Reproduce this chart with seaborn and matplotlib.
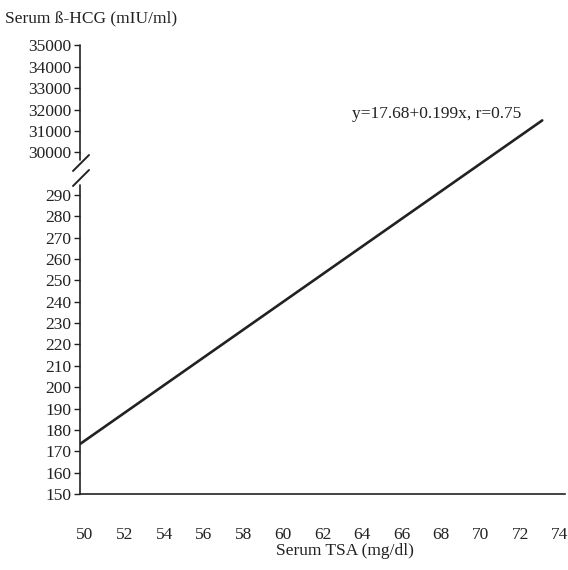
import numpy as np
import pandas as pd
import matplotlib
matplotlib.use("Agg")
import matplotlib.pyplot as plt
import seaborn as sns

# Data
x_vals = [49.75, 73.1]
y_vals = [173.4, 31490.0]
lower_ticks = list(range(150, 300, 10))
upper_ticks = [30000, 31000, 32000, 33000, 34000, 35000]
x_ticks = list(range(50, 76, 2))
equation = "y=17.68+0.199x, r=0.75"
y_title = "Serum ß-HCG (mIU/ml)"
x_title = "Serum TSA (mg/dl)"

sns.set_theme(style="white")
plt.rcParams['font.family'] = ['Liberation Serif', 'DejaVu Serif']

def fwd(y):
    y = np.asarray(y, dtype=float)
    return np.where(y <= 300, y,
           np.where(y < 29900, 300 + (y - 300) / 29600 * 9,
                    309 + (y - 29900) / 100))

def inv(t):
    t = np.asarray(t, dtype=float)
    return np.where(t <= 300, t,
           np.where(t < 309, 300 + (t - 300) / 9 * 29600,
                    29900 + (t - 309) * 100))

W, H = 568, 570
fig = plt.figure(figsize=(W / 100, H / 100), dpi=100)
L, R, B, T = 80, 565, 494, 45
ax = fig.add_axes([L / W, 1 - B / H, (R - L) / W, (B - T) / H])
ax.set_yscale('function', functions=(fwd, inv))

df = pd.DataFrame({"x": x_vals, "y": y_vals})
sns.lineplot(data=df, x="x", y="y", ax=ax, color="#222222", linewidth=1.9)

ax.set_xlim(49.75, 74.25)
ax.set_ylim(150, 35020)
ax.set_yticks(lower_ticks + upper_ticks)
ax.set_yticklabels([str(v) for v in lower_ticks + upper_ticks])
ax.set_xticks(x_ticks)
ax.set_xticklabels([str(v) for v in x_ticks])
ax.tick_params(axis='y', which='both', direction='out', length=4, width=1,
               color='#222222', pad=2, labelsize=12.5, left=True, labelcolor='#222222')
ax.tick_params(axis='x', length=0, pad=24, labelsize=12.5, labelcolor='#222222')

for s in ['top', 'right', 'left']:
    ax.spines[s].set_visible(False)
ax.spines['bottom'].set_color('#222222')
ax.spines['bottom'].set_linewidth(1.2)

# broken left axis
ax.plot([0, 0], [0, (B - 185) / (B - T)], transform=ax.transAxes,
        color='#222222', lw=1.2, clip_on=False)
ax.plot([0, 0], [(B - 160) / (B - T), 1.0], transform=ax.transAxes,
        color='#222222', lw=1.2, clip_on=False)
for cy in (163, 178):
    x0, x1 = (73 - L) / (R - L), (89 - L) / (R - L)
    y0, y1 = (B - (cy + 8)) / (B - T), (B - (cy - 8)) / (B - T)
    ax.plot([x0, x1], [y0, y1], transform=ax.transAxes,
            color='#222222', lw=1.4, clip_on=False)

ax.set_xlabel("")
ax.set_ylabel("")
fig.text(345 / W, 1 - 551 / H, x_title, ha='center', va='center',
         fontsize=12.5, color='#222222')
fig.text(5 / W, 1 - 18 / H, y_title, ha='left', va='center', fontsize=12.5, color='#222222')
ax.text((352 - L) / (R - L), (B - 114) / (B - T), equation, transform=ax.transAxes,
        ha='left', va='center', fontsize=12.5, color='#222222')

fig.savefig("out.png", dpi=100)
